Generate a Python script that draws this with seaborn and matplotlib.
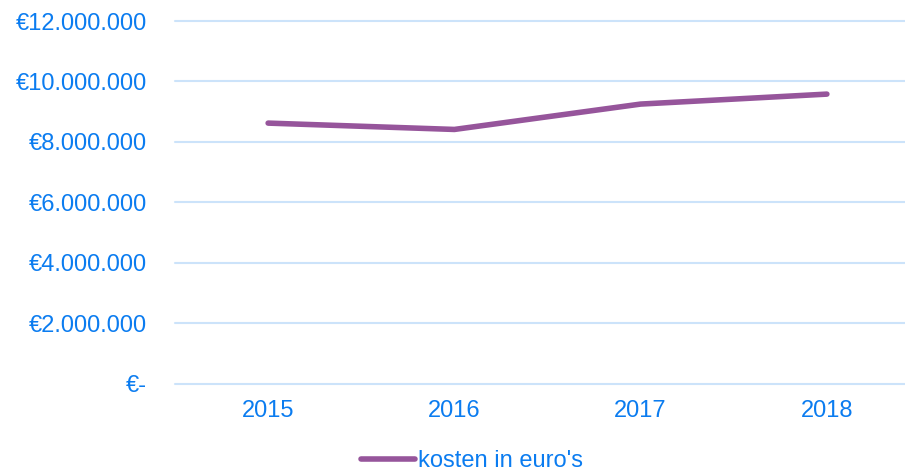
import pandas as pd
import seaborn as sns
import matplotlib.pyplot as plt
from matplotlib.ticker import FuncFormatter

# data
jaren = ["2015", "2016", "2017", "2018"]
kosten = [8620000, 8410000, 9250000, 9580000]
serie_naam = "kosten in euro's"

BLAUW = "#0B7CF0"
PAARS = "#96559B"
GRID = "#CCE3FA"

sns.set_theme(style="white")
plt.rcParams['font.family'] = ['Liberation Sans', 'DejaVu Sans']

df = pd.DataFrame({"jaar": jaren, "kosten": kosten})

fig = plt.figure(figsize=(9.05, 4.74), dpi=100)
ax = fig.add_axes([175 / 905, 1 - 383.5 / 474, 745 / 905, (383.5 - 21) / 474])

sns.lineplot(data=df, x="jaar", y="kosten", ax=ax, color=PAARS, linewidth=4.0,
             solid_capstyle="round", label=serie_naam, legend=False)

ax.set_xlim(-0.5, 3.5)
ax.set_ylim(0, 12000000)
ax.set_yticks(range(0, 12000001, 2000000))


def euro(v, pos):
    if v == 0:
        return "€-"
    return "€" + f"{int(v):,}".replace(",", ".")


ax.yaxis.set_major_formatter(FuncFormatter(euro))
ax.grid(axis="y", color=GRID, linewidth=1.5)
ax.grid(axis="x", visible=False)
for gl in ax.get_ygridlines():
    gl.set_clip_on(False)
ax.set_axisbelow(True)
for s in ax.spines.values():
    s.set_visible(False)
ax.tick_params(axis="y", length=0, pad=20, labelsize=17, labelcolor=BLAUW)
ax.tick_params(axis="x", length=0, pad=12, labelsize=17, labelcolor=BLAUW)
ax.set_xlabel("")
ax.set_ylabel("")

handles, labels = ax.get_legend_handles_labels()
leg = fig.legend(handles, labels, loc="center", bbox_to_anchor=(472 / 905, 1 - 461 / 474),
                 frameon=False, fontsize=17, handlelength=2.3, handletextpad=0.15,
                 borderpad=0.1)
for t in leg.get_texts():
    t.set_color(BLAUW)

fig.savefig("out.png", dpi=100)
